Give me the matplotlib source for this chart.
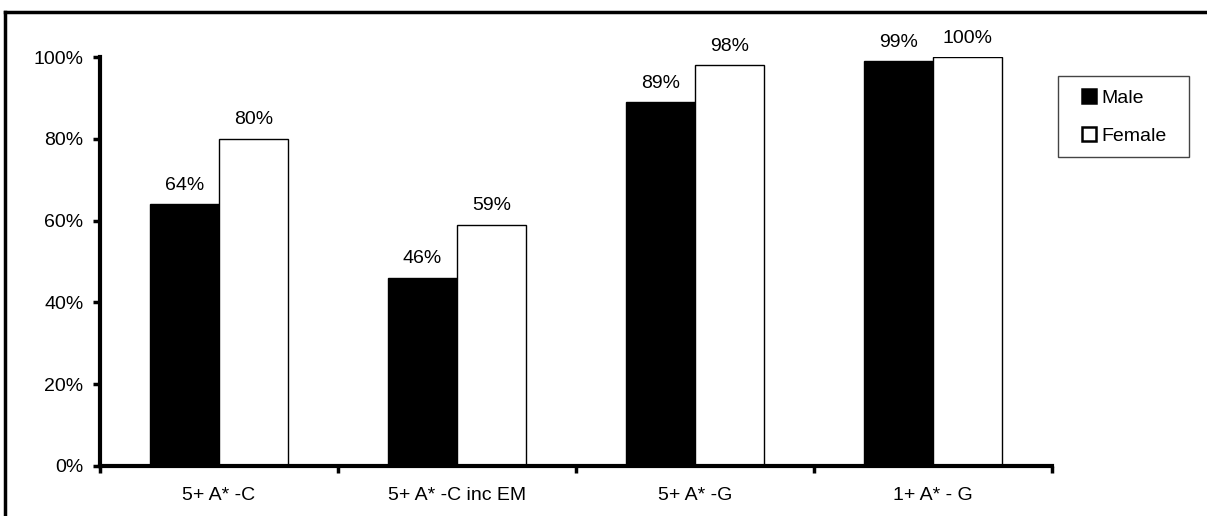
import matplotlib.pyplot as plt
import numpy as np
from matplotlib.lines import Line2D
from matplotlib.patches import Rectangle
from matplotlib.ticker import FixedLocator

plt.rcParams['font.family'] = ['Liberation Sans', 'DejaVu Sans']

categories = ['5+ A* -C', '5+ A* -C inc EM', '5+ A* -G', '1+ A* - G']
male = [64, 46, 89, 99]
female = [80, 59, 98, 100]
yticks = [0, 20, 40, 60, 80, 100]

W, H = 1207, 516
fs = 14
fig = plt.figure(figsize=(W/100, H/100), dpi=100)
ax = fig.add_axes([100/W, 1-466/H, 952/W, (466-57)/H])

x = np.arange(len(categories))
w = 0.29
b1 = ax.bar(x - w/2, male, w, color='black', edgecolor='black', linewidth=1, label='Male')
b2 = ax.bar(x + w/2, female, w, color='white', edgecolor='black', linewidth=1, label='Female')

for bars, vals in ((b1, male), (b2, female)):
    for r, v in zip(bars, vals):
        ax.annotate(f'{v}%', (r.get_x() + r.get_width()/2, v), xytext=(0, 7.5),
                    textcoords='offset points', ha='center', va='bottom', fontsize=fs)

ax.set_xlim(-0.5, len(categories) - 0.5)
ax.set_ylim(0, 100)
ax.set_yticks(yticks)
ax.set_yticklabels([f'{t}%' for t in yticks], fontsize=fs)
ax.set_xticks(x)
ax.set_xticklabels(categories, fontsize=fs)
ax.xaxis.set_minor_locator(FixedLocator(np.arange(-0.5, len(categories), 1.0)))
ax.tick_params(axis='x', which='major', length=0, pad=15)
ax.tick_params(axis='x', which='minor', length=5, width=2.5, direction='out')
ax.tick_params(axis='y', length=5, width=2.5, direction='out', pad=7)

for s in ('top', 'right'):
    ax.spines[s].set_visible(False)
for s in ('left', 'bottom'):
    ax.spines[s].set_linewidth(3)

leg = ax.legend(loc='upper left', bbox_to_anchor=(1082/W, 1-89/H),
                bbox_transform=fig.transFigure, fontsize=fs, frameon=False,
                handlelength=0.72, handleheight=0.72,
                handletextpad=0.3, borderpad=0, labelspacing=1.05, borderaxespad=0)
for p in leg.get_patches():
    p.set_linewidth(1.8)

# legend frame
fig.add_artist(Rectangle((1058/W, 1-157/H), 131/W, 81/H, transform=fig.transFigure,
                         fill=False, edgecolor='#444444', lw=1))

# outer chart border
fig.add_artist(Line2D([5/W, 5/W], [0, 1-12/H], transform=fig.transFigure, color='black', lw=2.5))
fig.add_artist(Line2D([5/W, 1], [1-12/H, 1-12/H], transform=fig.transFigure, color='black', lw=2.5))

fig.savefig('out.png', dpi=100)
